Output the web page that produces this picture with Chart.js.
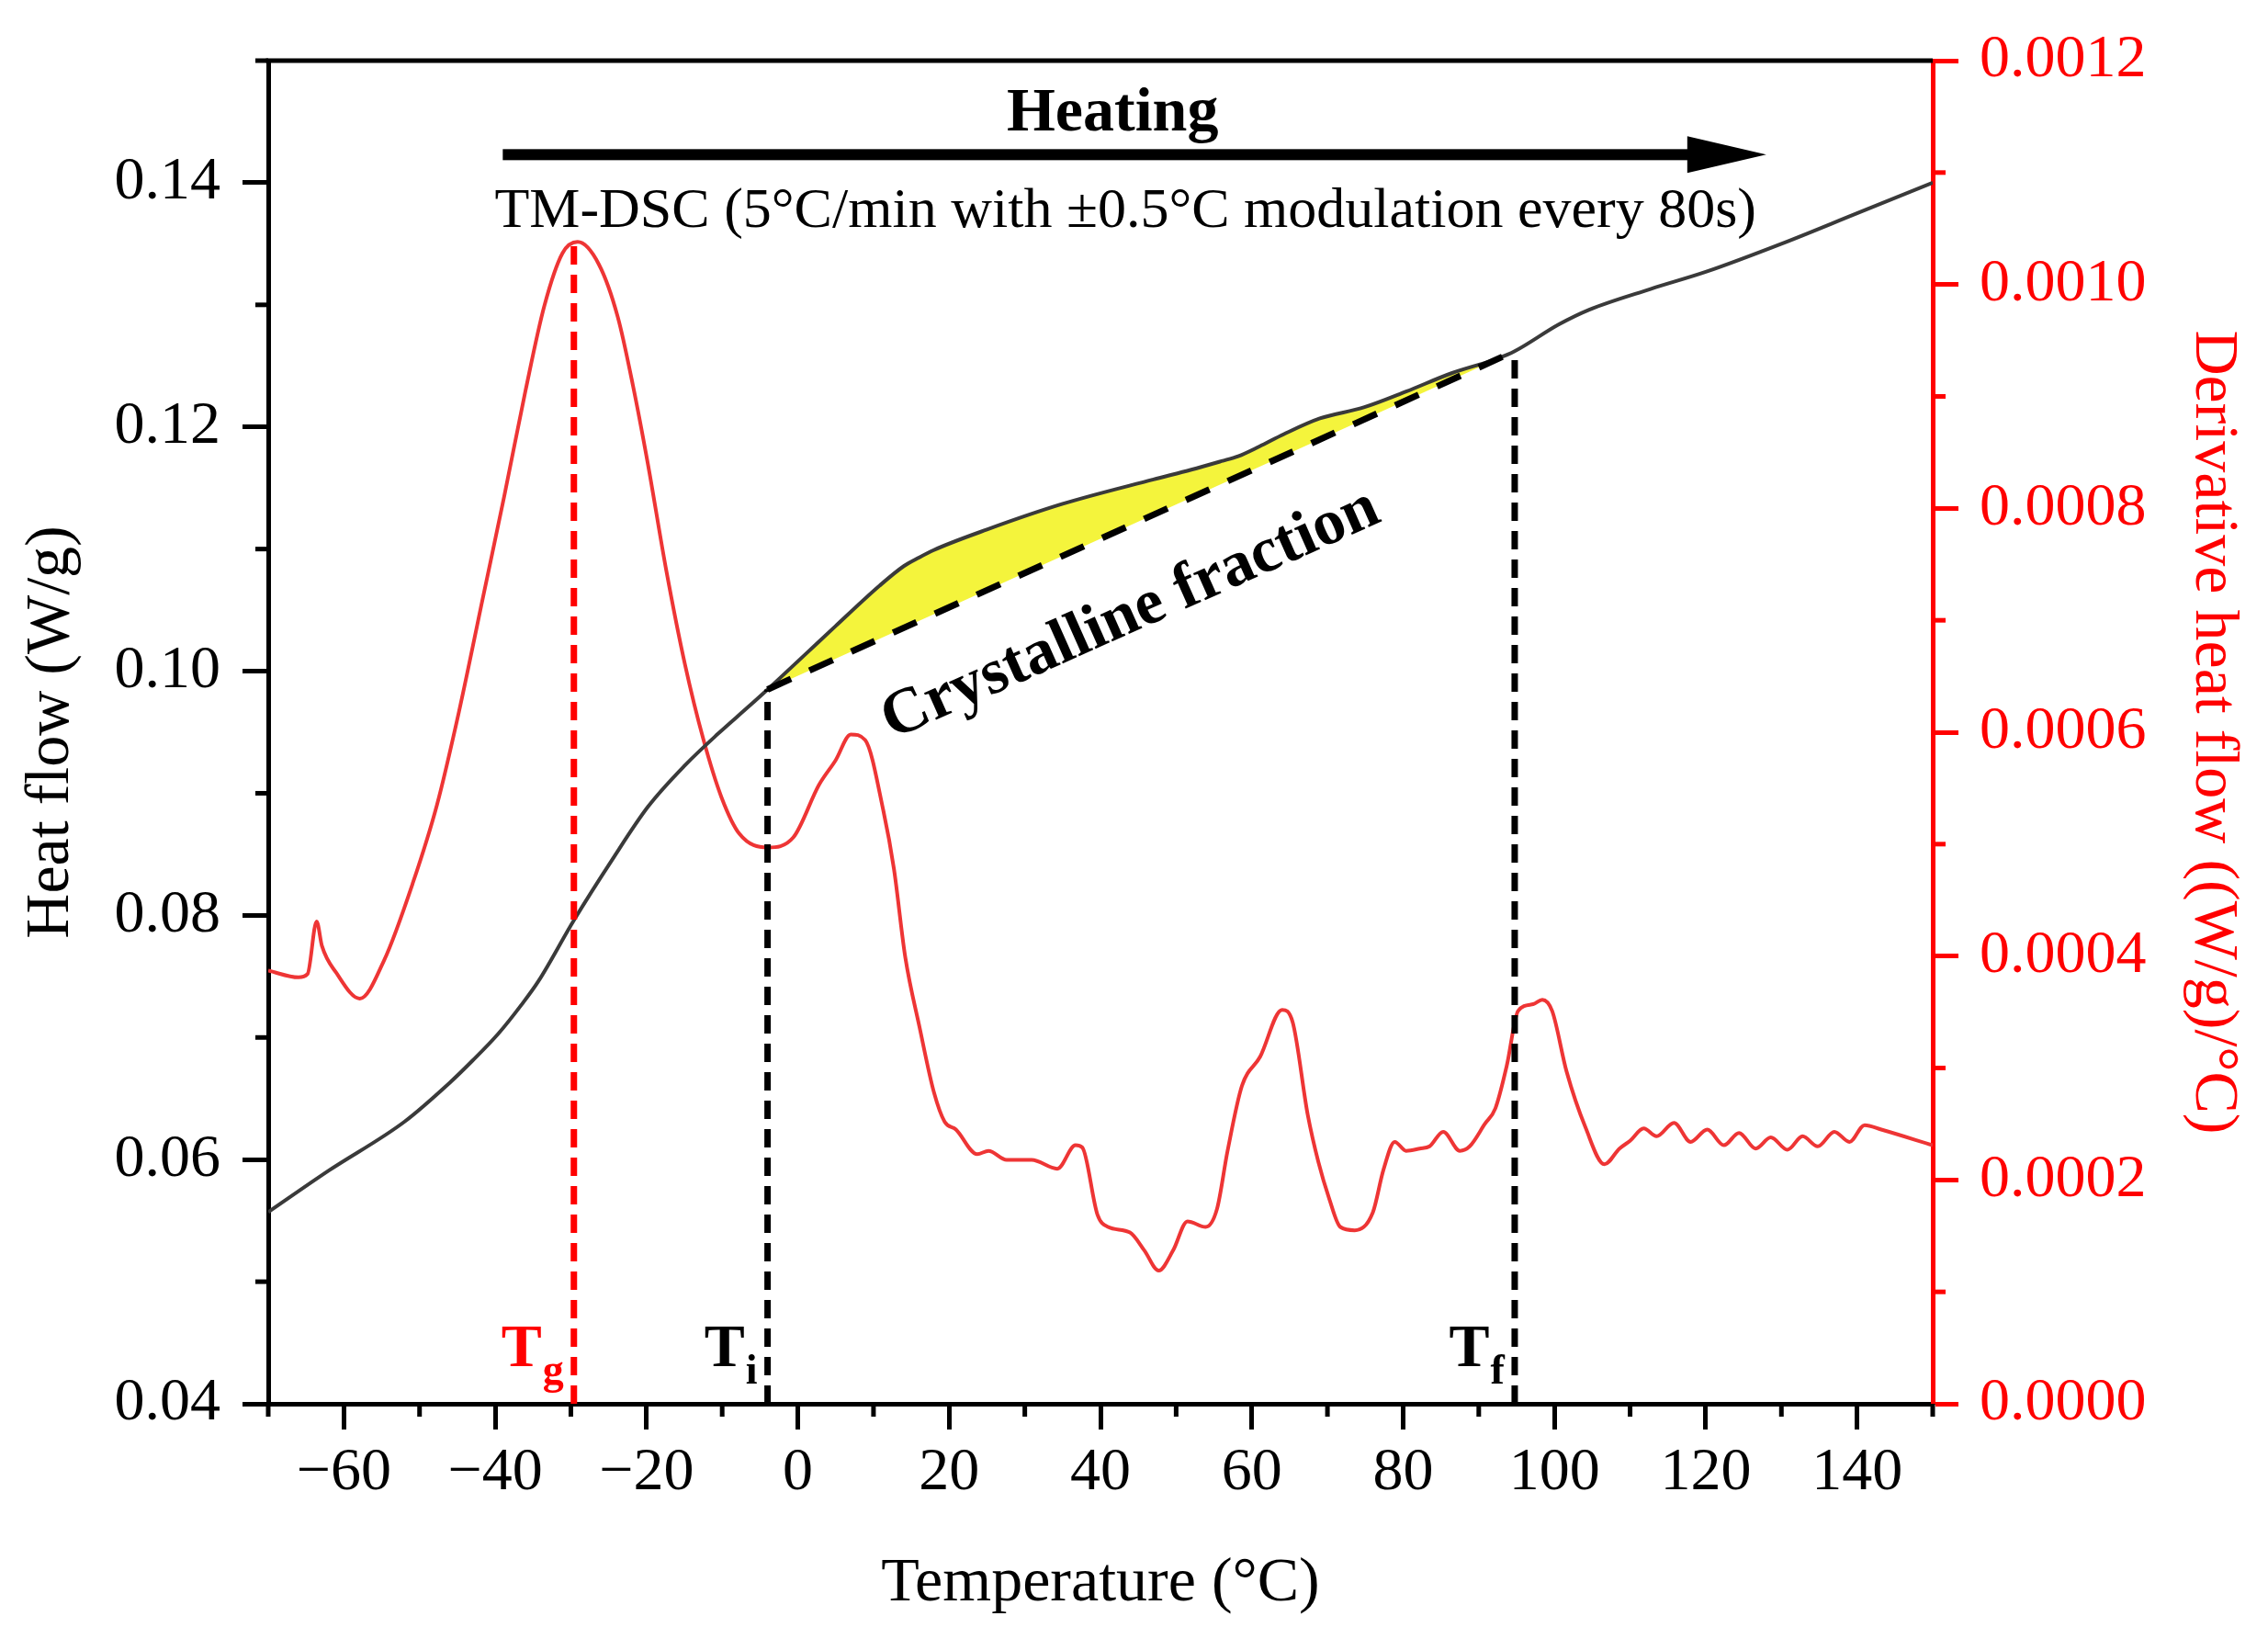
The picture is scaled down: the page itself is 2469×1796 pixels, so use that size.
<!DOCTYPE html>
<html>
<head>
<meta charset="utf-8">
<title>TM-DSC heat flow</title>
<script src="https://cdn.jsdelivr.net/npm/chart.js@4.4.1/dist/chart.umd.min.js"></script>
<style>
  html, body { margin: 0; padding: 0; background: #fff; }
  #wrap { width: 2469px; height: 1796px; position: relative; }
</style>
</head>
<body>
<div id="wrap"><canvas id="dsc"></canvas></div>
<script>
// heat flow (W/g) -> left axis
const heatT = [
  -70, -62, -52, -46, -43, -39.6, -36.5, -34.3, -29.6, -24.6,
  -19.8, -14.9, -10.5, -6.5, -4, 1.2, 5, 10.8, 14, 16,
  17.9, 25, 35, 47, 52, 56, 58.2, 61, 64.2, 69,
  74.8, 80.4, 86.4, 92.5, 94.75, 100.6, 104.6, 112.7, 120, 130,
  140, 150
];
const heatFlow = [
  0.0557, 0.0591, 0.0631, 0.0663, 0.0681, 0.0703, 0.0727, 0.0746, 0.0796, 0.0845,
  0.0889, 0.0923, 0.0949, 0.0971, 0.0985, 0.1015, 0.1037, 0.1070, 0.1086, 0.1093,
  0.1099, 0.1116, 0.1137, 0.1157, 0.1165, 0.1172, 0.1176, 0.1184, 0.1194, 0.1207,
  0.1216, 0.1229, 0.1244, 0.1256, 0.1262, 0.1284, 0.1296, 0.1313, 0.1327, 0.1350,
  0.1375, 0.1400
];

// derivative heat flow ((W/g)/°C) -> right axis
const derivT = [
  -70, -66, -64.8, -63.6, -62.9, -61, -57.9, -54.7, -50.9, -47.7,
  -44.8, -41.6, -38.8, -36, -33.5, -31.1, -29.1, -26.3, -23.8, -21.8,
  -19.8, -17.4, -14.9, -12.5, -10.1, -7.7, -4, -0.6, 2.8, 5,
  7, 8.9, 11.3, 12.7, 14.2, 16.1, 18, 19.4, 20.9, 23.7,
  25.2, 27.6, 30.9, 34.3, 36.7, 37.6, 39.6, 41, 43.9, 45.8,
  47.7, 49.6, 51.5, 53.9, 55.4, 56.8, 58.7, 61.1, 64, 65.4,
  67.4, 68.8, 70.2, 71.7, 73.6, 76, 77.4, 78.9, 80.4, 82.2,
  83.5, 85.3, 87.5, 88.8, 90.8, 92.2, 93.7, 95.2, 97.2, 98.4,
  99.7, 101.6, 104.1, 106.6, 108.6, 110, 111.8, 113.5, 115.8, 118,
  120.2, 122.4, 124.4, 126.6, 128.6, 130.8, 132.8, 134.8, 137, 139,
  141, 143.2, 150
];
const derivFlow = [
  3.87e-4, 3.81e-4, 3.84e-4, 4.31e-4, 4.09e-4, 3.85e-4, 3.62e-4, 3.96e-4, 4.65e-4, 5.35e-4,
  6.18e-4, 7.21e-4, 8.11e-4, 9.05e-4, 9.81e-4, 10.28e-4, 10.38e-4, 10.18e-4, 9.71e-4, 9.10e-4,
  8.39e-4, 7.45e-4, 6.60e-4, 5.94e-4, 5.42e-4, 5.09e-4, 4.97e-4, 5.06e-4, 5.53e-4, 5.75e-4,
  5.98e-4, 5.93e-4, 5.30e-4, 4.78e-4, 3.99e-4, 3.36e-4, 2.78e-4, 2.52e-4, 2.45e-4, 2.23e-4,
  2.26e-4, 2.18e-4, 2.18e-4, 2.10e-4, 2.31e-4, 2.29e-4, 1.69e-4, 1.58e-4, 1.53e-4, 1.37e-4,
  1.19e-4, 1.37e-4, 1.63e-4, 1.58e-4, 1.74e-4, 2.26e-4, 2.84e-4, 3.10e-4, 3.52e-4, 3.41e-4,
  2.58e-4, 2.16e-4, 1.84e-4, 1.58e-4, 1.55e-4, 1.71e-4, 2.09e-4, 2.34e-4, 2.26e-4, 2.28e-4,
  2.30e-4, 2.43e-4, 2.26e-4, 2.30e-4, 2.50e-4, 2.64e-4, 3.02e-4, 3.51e-4, 3.57e-4, 3.61e-4,
  3.51e-4, 2.97e-4, 2.47e-4, 2.14e-4, 2.28e-4, 2.35e-4, 2.46e-4, 2.39e-4, 2.51e-4, 2.34e-4,
  2.45e-4, 2.31e-4, 2.42e-4, 2.28e-4, 2.38e-4, 2.27e-4, 2.39e-4, 2.30e-4, 2.43e-4, 2.34e-4,
  2.49e-4, 2.45e-4, 2.31e-4
];

// Tg, Ti, Tf : temperature and top of the dashed marker (heat flow units)
const markerNames = ["g", "i", "f"];
const markerT = [-29.6, -4, 94.75];
const markerTop = [0.1351, 0.0985, 0.1262];

// heating arrow (temperature span, heat flow level)
const arrowT = [-39, 128];
const arrowLevel = 0.1423;

const xTicks = [-60, -40, -20, 0, 20, 40, 60, 80, 100, 120, 140];
const xMinor = [-70, -50, -30, -10, 10, 30, 50, 70, 90, 110, 130, 150];
const yTicks = [0.04, 0.06, 0.08, 0.10, 0.12, 0.14];
const yMinor = [0.05, 0.07, 0.09, 0.11, 0.13, 0.15];
const y2Ticks = [0, 0.0002, 0.0004, 0.0006, 0.0008, 0.0010, 0.0012];
const y2Minor = [0.0001, 0.0003, 0.0005, 0.0007, 0.0009, 0.0011];

const SERIF = "'Liberation Serif', 'Times New Roman', serif";
const RED = "#ff0000";

const pts = (xs, ys) => xs.map((x, i) => ({ x: x, y: ys[i] }));

// part of the heat flow curve between Ti and Tf, filled down to the baseline
const crystT = heatT.filter((t) => t >= markerT[1] && t <= markerT[2]);
const crystV = heatFlow.filter((v, i) => heatT[i] >= markerT[1] && heatT[i] <= markerT[2]);

function markerLine(i, color) {
  return {
    data: pts([markerT[i], markerT[i]], [0.04, markerTop[i]]),
    yAxisID: "y",
    borderColor: color,
    borderWidth: 7,
    borderDash: [20, 11],
    pointRadius: 0,
    order: 0,
  };
}

const annotations = {
  id: "annotations",
  afterDraw(chart) {
    const { ctx, chartArea: a } = chart;
    const { x, y, y2 } = chart.scales;
    ctx.save();

    // frame top
    ctx.strokeStyle = "#000";
    ctx.lineWidth = 5;
    ctx.beginPath();
    ctx.moveTo(a.left - 2.5, a.top);
    ctx.lineTo(a.right, a.top);
    ctx.stroke();

    // minor ticks
    xMinor.forEach((v) => {
      const px = x.getPixelForValue(v);
      ctx.beginPath(); ctx.moveTo(px, a.bottom); ctx.lineTo(px, a.bottom + 14); ctx.stroke();
    });
    yMinor.forEach((v) => {
      const py = y.getPixelForValue(v);
      ctx.beginPath(); ctx.moveTo(a.left, py); ctx.lineTo(a.left - 14, py); ctx.stroke();
    });
    ctx.strokeStyle = RED;
    y2Minor.forEach((v) => {
      const py = y2.getPixelForValue(v);
      ctx.beginPath(); ctx.moveTo(a.right, py); ctx.lineTo(a.right + 14, py); ctx.stroke();
    });

    // heating arrow
    const ax0 = x.getPixelForValue(arrowT[0]);
    const ax1 = x.getPixelForValue(arrowT[1]);
    const ay = y.getPixelForValue(arrowLevel);
    ctx.fillStyle = "#000";
    ctx.fillRect(ax0, ay - 6, ax1 - 80 - ax0, 12);
    ctx.beginPath();
    ctx.moveTo(ax1 - 86, ay - 20);
    ctx.lineTo(ax1, ay);
    ctx.lineTo(ax1 - 86, ay + 20);
    ctx.closePath();
    ctx.fill();

    ctx.textAlign = "center";
    ctx.textBaseline = "alphabetic";
    ctx.font = "bold 68px " + SERIF;
    ctx.fillText("Heating", x.getPixelForValue(41.6), y.getPixelForValue(0.1443));
    ctx.font = "62px " + SERIF;
    ctx.fillText("TM-DSC (5°C/min with ±0.5°C modulation every 80s)",
      x.getPixelForValue(43.3), y.getPixelForValue(0.1364));

    // rotated label under the baseline
    ctx.save();
    ctx.translate(x.getPixelForValue(44), y.getPixelForValue(0.1046));
    ctx.rotate(-24 * Math.PI / 180);
    ctx.font = "bold 70px " + SERIF;
    ctx.textBaseline = "middle";
    ctx.fillText("Crystalline fraction", 0, 0);
    ctx.restore();

    // T labels with subscripts
    ctx.textAlign = "right";
    ctx.textBaseline = "alphabetic";
    const ly = y.getPixelForValue(0.0431);
    markerNames.forEach((name, i) => {
      const lx = x.getPixelForValue(markerT[i]) - 11;
      ctx.fillStyle = i === 0 ? RED : "#000";
      ctx.font = "bold 46px " + SERIF;
      const sw = ctx.measureText(name).width;
      ctx.fillText(name, lx, ly + 19);
      ctx.font = "bold 66px " + SERIF;
      ctx.fillText("T", lx - sw - 1, ly);
    });

    ctx.restore();
  },
};

new Chart(document.getElementById("dsc"), {
  type: "line",
  data: {
    datasets: [
      markerLine(0, RED),
      markerLine(1, "#000"),
      markerLine(2, "#000"),
      {
        // dashed baseline Ti -> Tf
        data: pts([markerT[1], markerT[2]], [markerTop[1], markerTop[2]]),
        yAxisID: "y",
        borderColor: "#000",
        borderWidth: 7,
        borderDash: [28, 22],
        pointRadius: 0,
        order: 1,
      },
      {
        data: pts(heatT, heatFlow),
        yAxisID: "y",
        borderColor: "#3a3a3a",
        borderWidth: 4,
        pointRadius: 0,
        cubicInterpolationMode: "monotone",
        order: 2,
      },
      {
        data: pts(derivT, derivFlow),
        yAxisID: "y2",
        borderColor: "#ee3535",
        borderWidth: 4,
        pointRadius: 0,
        cubicInterpolationMode: "monotone",
        order: 3,
      },
      {
        // yellow area between curve and baseline
        data: pts(crystT, crystV),
        yAxisID: "y",
        borderWidth: 0,
        borderColor: "rgba(0,0,0,0)",
        backgroundColor: "#f4f43c",
        fill: { target: 3 },
        pointRadius: 0,
        cubicInterpolationMode: "monotone",
        order: 4,
      },
    ],
  },
  options: {
    responsive: true,
    maintainAspectRatio: false,
    animation: false,
    layout: { padding: { top: 66, left: 0, right: 0, bottom: 0 } },
    plugins: { legend: { display: false }, tooltip: { enabled: false } },
    scales: {
      x: {
        type: "linear",
        min: -70,
        max: 150,
        afterBuildTicks: (s) => { s.ticks = xTicks.map((v) => ({ value: v })); },
        afterFit: (s) => { s.height = 268; },
        ticks: {
          color: "#000",
          padding: 8,
          maxRotation: 0,
          font: { family: SERIF, size: 66 },
          callback: (v) => (v < 0 ? "\u2212" + Math.abs(v) : String(v)),
        },
        grid: { drawOnChartArea: false, drawTicks: true, tickLength: 28, tickWidth: 5, tickColor: "#000" },
        border: { display: true, color: "#000", width: 5 },
        title: {
          display: true,
          text: "Temperature (°C)",
          color: "#000",
          font: { family: SERIF, size: 68 },
          padding: { top: 0, bottom: 31 },
        },
      },
      y: {
        type: "linear",
        position: "left",
        min: 0.04,
        max: 0.15,
        afterBuildTicks: (s) => { s.ticks = yTicks.map((v) => ({ value: v })); },
        afterFit: (s) => { s.width = 292; },
        ticks: {
          color: "#000",
          padding: 24,
          font: { family: SERIF, size: 66 },
          callback: (v) => v.toFixed(2),
        },
        grid: { drawOnChartArea: false, drawTicks: true, tickLength: 28, tickWidth: 5, tickColor: "#000" },
        border: { display: true, color: "#000", width: 5 },
        title: {
          display: true,
          text: "Heat flow (W/g)",
          color: "#000",
          font: { family: SERIF, size: 68 },
          padding: { top: 15, bottom: 0 },
        },
      },
      y2: {
        type: "linear",
        position: "right",
        min: 0,
        max: 0.0012,
        afterBuildTicks: (s) => { s.ticks = y2Ticks.map((v) => ({ value: v })); },
        afterFit: (s) => { s.width = 365; },
        ticks: {
          color: RED,
          padding: 23,
          font: { family: SERIF, size: 66 },
          callback: (v) => v.toFixed(4),
        },
        grid: { drawOnChartArea: false, drawTicks: true, tickLength: 28, tickWidth: 5, tickColor: RED },
        border: { display: true, color: RED, width: 5 },
        title: {
          display: true,
          text: "Derivative heat flow ((W/g)/°C)",
          color: RED,
          font: { family: SERIF, size: 68 },
          padding: { top: 19, bottom: 0 },
        },
      },
    },
  },
  plugins: [annotations],
});
</script>
</body>
</html>
